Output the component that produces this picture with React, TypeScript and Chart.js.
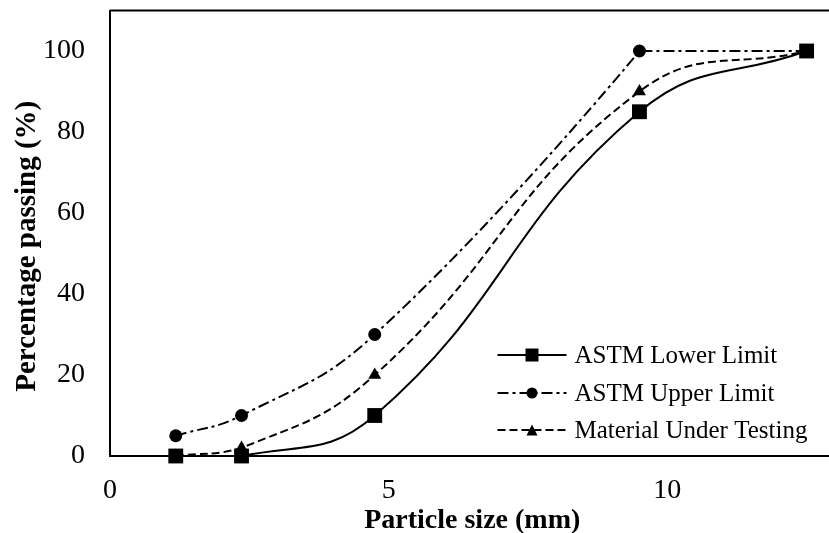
import React, { useEffect, useRef } from "react";
import { Chart, registerables } from "chart.js";

Chart.register(...registerables);

const particleSize = [1.18, 2.36, 4.75, 9.5, 12.5];
const lowerLimit = [0, 0, 10, 85, 100];
const upperLimit = [5, 10, 30, 100, 100];
const materialUnderTesting = [0, 2, 20, 90, 100];
const seriesNames = ["ASTM Lower Limit", "ASTM Upper Limit", "Material Under Testing"];
const xTitle = "Particle size (mm)";
const yTitle = "Percentage passing (%)";
const xTicks = [0, 5, 10];
const yTicks = [0, 20, 40, 60, 80, 100];

const FONT = "'Liberation Serif', 'Times New Roman', serif";

const toPoints = (ys: number[]) => particleSize.map((x, i) => ({ x, y: ys[i] }));

function drawMarker(ctx: CanvasRenderingContext2D, style: string, x: number, y: number, s: number) {
  ctx.beginPath();
  if (style === "rect") {
    ctx.rect(x - s / 2, y - s / 2, s, s);
  } else if (style === "circle") {
    ctx.arc(x, y, s / 2, 0, Math.PI * 2);
  } else {
    ctx.moveTo(x, y - s / 2);
    ctx.lineTo(x + s / 2, y + s / 2);
    ctx.lineTo(x - s / 2, y + s / 2);
    ctx.closePath();
  }
  ctx.fillStyle = "#000";
  ctx.fill();
}

// Keeps smoothed control points from overshooting the neighbouring values (Excel-like look)
const clampPlugin = {
  id: "clampOvershoot",
  beforeDatasetDraw(chart: any, args: any) {
    const meta = args.meta;
    const ds = chart.data.datasets[args.index];
    if (!ds || !ds.clampOvershoot || !meta.dataset) return;
    meta.dataset.updateControlPoints(chart.chartArea, meta.iScale.axis);
    const pts = meta.data;
    for (let i = 0; i < pts.length; i++) {
      const p = pts[i];
      let k = 1;
      const check = (cy: number, other: any) => {
        if (!other || cy === undefined) return;
        const lo = Math.min(p.y, other.y);
        const hi = Math.max(p.y, other.y);
        const arm = cy - p.y;
        if (arm === 0) return;
        if (cy < lo) k = Math.min(k, (lo - p.y) / arm);
        else if (cy > hi) k = Math.min(k, (hi - p.y) / arm);
      };
      check(p.cp2y, pts[i + 1]);
      check(p.cp1y, pts[i - 1]);
      if (k < 1) {
        k = Math.max(0, k);
        p.cp1x = p.x + (p.cp1x - p.x) * k;
        p.cp1y = p.y + (p.cp1y - p.y) * k;
        p.cp2x = p.x + (p.cp2x - p.x) * k;
        p.cp2y = p.y + (p.cp2y - p.y) * k;
      }
    }
  },
};

const decorPlugin = {
  id: "decor",
  afterDraw(chart: any) {
    const { ctx, chartArea } = chart;
    ctx.save();
    // top border
    ctx.strokeStyle = "#000";
    ctx.lineWidth = 2;
    ctx.setLineDash([]);
    ctx.beginPath();
    ctx.moveTo(chartArea.left, chartArea.top);
    ctx.lineTo(chart.width, chartArea.top);
    ctx.stroke();

    // y axis title
    ctx.save();
    ctx.translate(28, (chartArea.top + chartArea.bottom) / 2 + 13);
    ctx.rotate(-Math.PI / 2);
    ctx.fillStyle = "#000";
    ctx.font = `bold 29px ${FONT}`;
    ctx.textAlign = "center";
    ctx.textBaseline = "middle";
    ctx.fillText(yTitle, 0, 0);
    ctx.restore();

    // legend
    const rowsY = [chartArea.bottom - 101, chartArea.bottom - 63, chartArea.bottom - 26];
    const x0 = chartArea.right - 337;
    const x1 = chartArea.right - 268;
    const tx = chartArea.right - 260;
    const markerSizes = [13, 11, 11];
    chart.data.datasets.forEach((ds: any, i: number) => {
      const y = rowsY[i];
      ctx.strokeStyle = "#000";
      ctx.lineWidth = 2;
      ctx.setLineDash(ds.borderDash || []);
      ctx.beginPath();
      ctx.moveTo(x0, y);
      ctx.lineTo(x1, y);
      ctx.stroke();
      ctx.setLineDash([]);
      drawMarker(ctx, ds.pointStyle, (x0 + x1) / 2, y, markerSizes[i]);
      ctx.fillStyle = "#000";
      ctx.font = `25px ${FONT}`;
      ctx.textAlign = "left";
      ctx.textBaseline = "middle";
      ctx.fillText(ds.label, tx, y + 1);
    });
    ctx.restore();
  },
};

export default function App() {
  const ref = useRef<HTMLCanvasElement>(null);
  useEffect(() => {
    if (!ref.current) return;
    const chart = new Chart(ref.current, {
      type: "line",
      data: {
        datasets: [
          {
            label: seriesNames[0],
            data: toPoints(lowerLimit),
            borderColor: "#000",
            backgroundColor: "#000",
            borderWidth: 2,
            pointStyle: "rect",
            pointRadius: 10.5,
            pointBorderWidth: 0,
            tension: 0.45,
            clip: false as any,
          },
          {
            label: seriesNames[1],
            data: toPoints(upperLimit),
            borderColor: "#000",
            backgroundColor: "#000",
            borderWidth: 2,
            borderDash: [11, 4, 3, 4],
            pointStyle: "circle",
            pointRadius: 6.5,
            pointBorderWidth: 0,
            tension: 0.45,
            clampOvershoot: true,
            clip: false as any,
          } as any,
          {
            label: seriesNames[2],
            data: toPoints(materialUnderTesting),
            borderColor: "#000",
            backgroundColor: "#000",
            borderWidth: 2,
            borderDash: [8, 4],
            pointStyle: "triangle",
            pointRadius: 7.5,
            pointBorderWidth: 0,
            tension: 0.45,
            clip: false as any,
          },
        ],
      },
      options: {
        animation: false,
        responsive: true,
        maintainAspectRatio: false,
        layout: { padding: { top: 9, left: 0, right: 10, bottom: 0 } },
        plugins: { legend: { display: false }, tooltip: { enabled: false } },
        scales: {
          x: {
            type: "linear",
            min: 0,
            max: 13,
            afterFit: (s: any) => { s.height = 77; s.paddingLeft = 0; s.paddingRight = 0; },
            afterBuildTicks: (s: any) => { s.ticks = xTicks.map((v) => ({ value: v })); },
            grid: { display: false, drawTicks: false },
            border: { display: true, color: "#000", width: 2 },
            ticks: { color: "#000", font: { family: FONT, size: 28 }, padding: 18, maxRotation: 0 },
            title: {
              display: true,
              text: xTitle,
              color: "#000",
              font: { family: FONT, size: 28, weight: "bold", lineHeight: 1 },
              padding: { top: 0, bottom: -2 },
            },
          },
          y: {
            type: "linear",
            min: 0,
            max: 110,
            afterFit: (s: any) => { s.width = 110; s.paddingTop = 0; s.paddingBottom = 0; },
            afterBuildTicks: (s: any) => { s.ticks = yTicks.map((v) => ({ value: v })); },
            grid: { display: false, drawTicks: false },
            border: { display: true, color: "#000", width: 2 },
            ticks: { color: "#000", font: { family: FONT, size: 28 }, padding: 25 },
            title: { display: false },
          },
        },
      } as any,
      plugins: [clampPlugin, decorPlugin],
    });
    return () => chart.destroy();
  }, []);
  return (
    <div style={{ position: "fixed", left: 0, top: 0, width: 845, height: 533 }}>
      <canvas ref={ref} />
    </div>
  );
}
